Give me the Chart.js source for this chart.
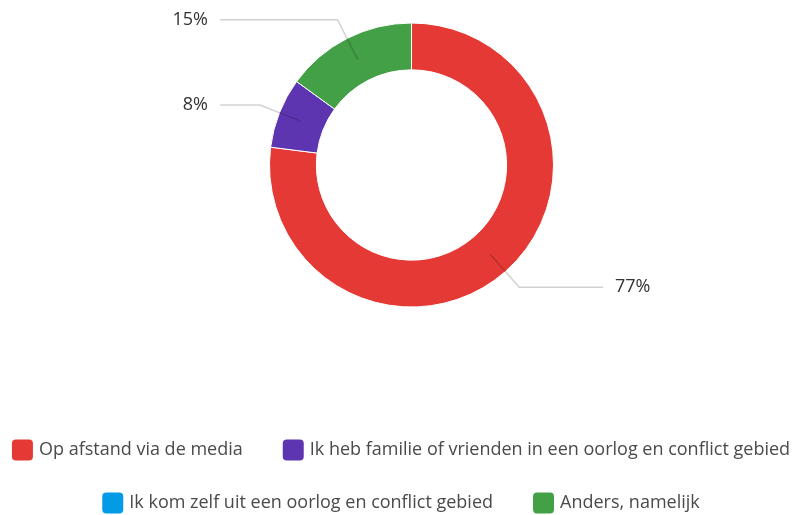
<!DOCTYPE html>
<html><head><meta charset="utf-8">
<script src="https://cdn.jsdelivr.net/npm/chart.js@4"></script>
<style>html,body{margin:0;padding:0;background:#fff}#wrap{width:792px;height:515px;position:relative}</style>
</head><body><div id="wrap"><canvas id="c" width="792" height="515"></canvas></div>
<script>
const categories = ['Op afstand via de media', 'Ik heb familie of vrienden in een oorlog en conflict gebied', 'Ik kom zelf uit een oorlog en conflict gebied', 'Anders, namelijk'];
const percentages = [77, 8, 0, 15];
const colors = ['#E53935', '#5E35B1', '#039BE5', '#43A047'];
const FONT = '"Open Sans", sans-serif';
const LABEL_SIZE = 18;
const LEGEND_SIZE = 18;

const leaderLabels = {
  id: 'leaderLabels',
  afterDatasetsDraw(chart) {
    const ctx = chart.ctx;
    const meta = chart.getDatasetMeta(0);
    ctx.save();
    meta.data.forEach((arc, i) => {
      const v = chart.data.datasets[0].data[i];
      if (!v) return;
      const p = arc.getProps(['x','y','startAngle','endAngle','innerRadius','outerRadius'], true);
      const mid = (p.startAngle + p.endAngle) / 2;
      const rm = (p.innerRadius + p.outerRadius) / 2;
      const re = p.outerRadius + 21;
      const x1 = p.x + Math.cos(mid) * rm, y1 = p.y + Math.sin(mid) * rm;
      const x2 = p.x + Math.cos(mid) * re, y2 = p.y + Math.sin(mid) * re;
      const right = Math.cos(mid) >= 0;
      const x3 = right ? p.x + 191.5 : p.x - 191.5;
      ctx.beginPath();
      ctx.moveTo(x1, y1); ctx.lineTo(x2, y2); ctx.lineTo(x3, y2);
      ctx.strokeStyle = 'rgba(0,0,0,0.18)';
      ctx.lineWidth = 1.5;
      ctx.stroke();
      ctx.fillStyle = '#333';
      ctx.font = LABEL_SIZE + 'px ' + FONT;
      ctx.textBaseline = 'middle';
      ctx.textAlign = right ? 'left' : 'right';
      ctx.fillText(v + '%', right ? x3 + 12 : x3 - 12, y2);
    });
    ctx.restore();
  }
};

const customLegend = {
  id: 'customLegend',
  afterDraw(chart) {
    const ctx = chart.ctx;
    const labels = chart.data.labels;
    const bg = chart.data.datasets[0].backgroundColor;
    ctx.save();
    ctx.font = LEGEND_SIZE + 'px ' + FONT;
    const box = 21, gapText = 6, gapItem = 40, maxW = 790, cx = 401;
    const rowsY = [450, 503];
    const rows = [[]]; let w = 0;
    labels.forEach((t, i) => {
      const iw = box + gapText + ctx.measureText(t).width;
      const row = rows[rows.length - 1];
      const nw = row.length ? w + gapItem + iw : iw;
      if (row.length && nw > maxW) { rows.push([{i, t, iw}]); w = iw; }
      else { row.push({i, t, iw}); w = nw; }
    });
    rows.forEach((row, r) => {
      const total = row.reduce((s, it) => s + it.iw, 0) + gapItem * (row.length - 1);
      let x = cx - total / 2;
      const y = rowsY[r];
      row.forEach(it => {
        ctx.fillStyle = bg[it.i];
        ctx.beginPath();
        ctx.roundRect(x, y - box / 2, box, box, 4);
        ctx.fill();
        ctx.fillStyle = '#4a4a4a';
        ctx.textBaseline = 'middle';
        ctx.textAlign = 'left';
        ctx.fillText(it.t, x + box + gapText, y);
        x += it.iw + gapItem;
      });
    });
    ctx.restore();
  }
};

new Chart(document.getElementById('c'), {
  type: 'doughnut',
  data: {
    labels: categories,
    datasets: [{
      data: percentages,
      backgroundColor: colors,
      borderColor: '#ffffff',
      borderWidth: 1,
      hoverOffset: 0
    }]
  },
  options: {
    responsive: false,
    animation: false,
    devicePixelRatio: 1,
    radius: 142,
    cutout: '67%',
    layout: { padding: { left: 31, right: 0, top: 0, bottom: 185 } },
    plugins: { legend: { display: false }, tooltip: { enabled: false } }
  },
  plugins: [leaderLabels, customLegend]
});
</script></body></html>
